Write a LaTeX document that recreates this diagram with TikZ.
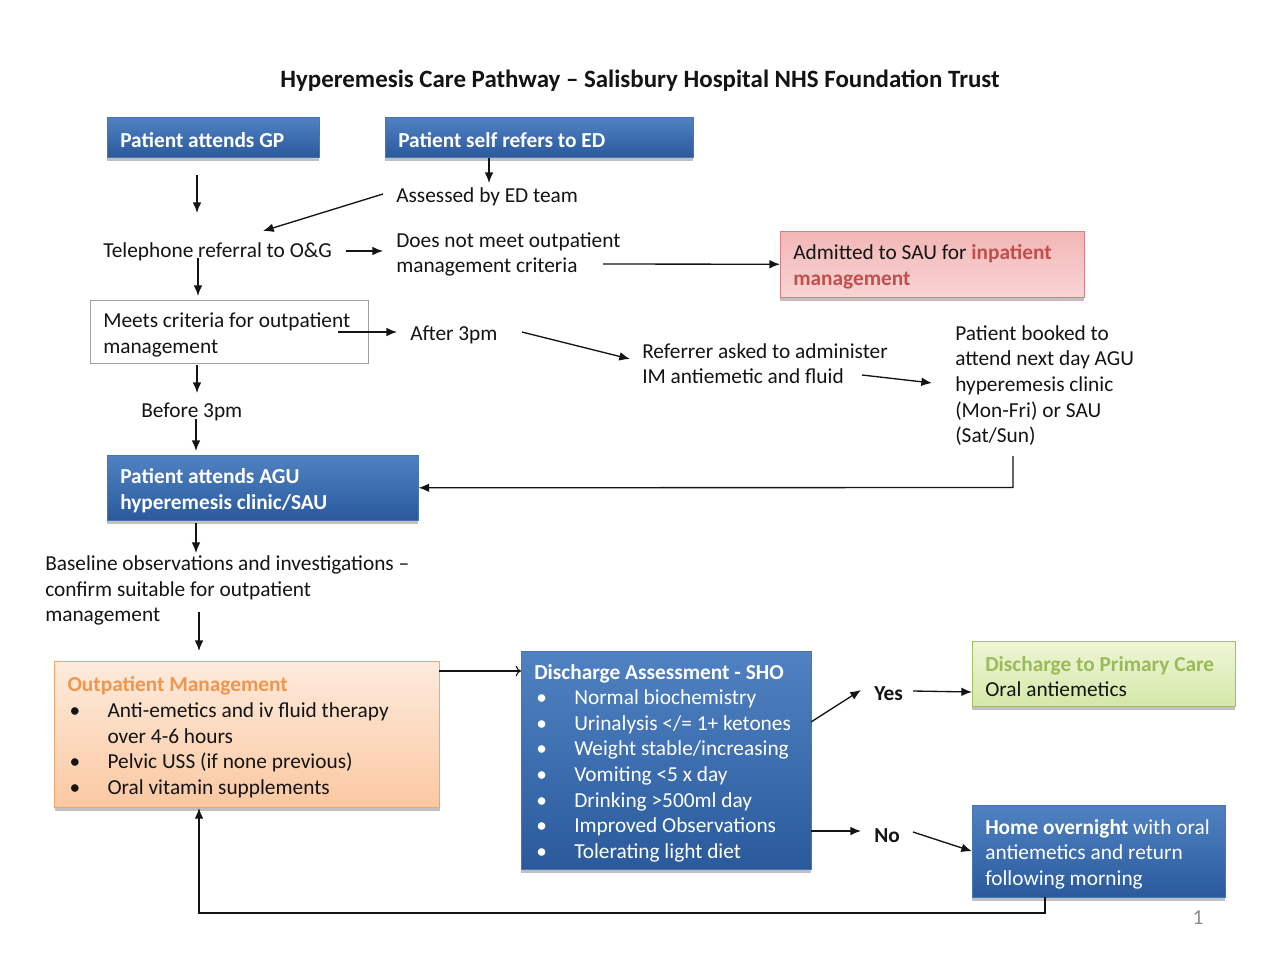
\documentclass[tikz,border=0pt]{standalone}
\usepackage{fontspec}
\setmainfont{Carlito}
\usetikzlibrary{arrows.meta,shadows}
\definecolor{bTop}{RGB}{80,130,194}
\definecolor{bBot}{RGB}{42,90,156}
\definecolor{bEdge}{RGB}{72,118,180}
\definecolor{pTop}{RGB}{242,182,182}
\definecolor{pBot}{RGB}{249,212,212}
\definecolor{pEdge}{RGB}{212,130,130}
\definecolor{pText}{RGB}{192,80,77}
\definecolor{oTop}{RGB}{253,235,220}
\definecolor{oBot}{RGB}{251,200,162}
\definecolor{oEdge}{RGB}{244,165,110}
\definecolor{oText}{RGB}{240,150,80}
\definecolor{gTop}{RGB}{238,246,216}
\definecolor{gBot}{RGB}{212,232,168}
\definecolor{gEdge}{RGB}{160,190,100}
\definecolor{gText}{RGB}{155,187,89}
\definecolor{ink}{RGB}{20,20,20}
\definecolor{greyedge}{RGB}{160,160,160}
\newcommand{\fsz}{\fontsize{16}{19.2}\selectfont}
\newcommand{\tsz}{\fontsize{18.7}{22}\selectfont}
\newcommand{\bul}{\makebox[30pt][l]{\hspace{1.5pt}\textbullet}}
\newcommand{\ind}{\hspace*{30pt}}
\newcommand{\dn}{\rule{0pt}{15.5pt}}
\begin{document}
\begin{tikzpicture}[x=0.75pt,y=-0.75pt, font=\fsz, text=ink,
  every node/.style={inner sep=0pt},
  arr/.style={draw=ink, line width=1pt, -{Latex[length=8pt,width=6.5pt]}},
  oarr/.style={draw=ink, line width=0.8pt, -{To[length=4pt,width=8pt]}},
  lbl/.style={anchor=west, align=flush left, yshift=-1.2pt},
  shad/.style={drop shadow={shadow xshift=0pt, shadow yshift=-2.5pt, opacity=0.35, fill=black!70}},
  box/.style={anchor=north west, align=flush left, inner xsep=9.75pt, inner ysep=0pt},
  bluebox/.style={box, shad, draw=bEdge, top color=bTop, bottom color=bBot, text=white},
  pinkbox/.style={box, shad, draw=pEdge, top color=pTop, bottom color=pBot},
  orangebox/.style={box, shad, draw=oEdge, line width=0.8pt, top color=oTop, bottom color=oBot},
  greenbox/.style={box, shad, draw=gEdge, top color=gTop, bottom color=gBot},
  whitebox/.style={box, draw=greyedge, fill=white},
]
\useasboundingbox[fill=white] (0,0) rectangle (1280,960);

% title
\node[font=\tsz\bfseries] (title) at (640,81) {Hyperemesis Care Pathway – Salisbury Hospital NHS Foundation Trust};

% boxes
\node[bluebox, minimum width=159pt, minimum height=30pt, text width=139.5pt] (gp) at (107,117) {\dn\bfseries Patient attends GP};
\node[bluebox, minimum width=231pt, minimum height=30pt, text width=211.5pt] (ed) at (385,117) {\dn\bfseries Patient self refers to ED};
\node[pinkbox, minimum width=228pt, minimum height=49.5pt, text width=208.5pt] (sau) at (780,231) {\dn Admitted to SAU for {\bfseries\color{pText}inpatient}\\{\bfseries\color{pText}management}};
\node[whitebox, minimum width=208.5pt, minimum height=47.25pt, text width=189pt] (meets) at (90,300) {\dn Meets criteria for outpatient\\management};
\node[bluebox, minimum width=233.25pt, minimum height=48.75pt, text width=213.75pt] (agu) at (107,455) {\dn\bfseries Patient attends AGU\\\bfseries hyperemesis clinic/SAU};
\node[orangebox, minimum width=288.75pt, minimum height=109.5pt, text width=269.25pt] (op) at (54,661) {\dn{\bfseries\color{oText}Outpatient Management}\\\bul Anti-emetics and iv fluid therapy\\\ind over 4-6 hours\\\bul Pelvic USS (if none previous)\\\bul Oral vitamin supplements};
\node[bluebox, minimum width=217.5pt, minimum height=163.5pt, text width=198pt] (dis) at (521,651) {\dn{\bfseries Discharge Assessment - SHO}\\\bul Normal biochemistry\\\bul Urinalysis </= 1+ ketones\\\bul Weight stable/increasing\\\bul Vomiting <5 x day\\\bul Drinking >500ml day\\\bul Improved Observations\\\bul Tolerating light diet};
\node[greenbox, minimum width=197.25pt, minimum height=48.75pt, text width=177.75pt] (pc) at (972,641) {\dn{\bfseries\color{gText}Discharge to Primary Care}\\Oral antiemetics};
\node[bluebox, minimum width=189.75pt, minimum height=69pt, text width=170.25pt] (home) at (972,805) {\dn{\bfseries Home overnight} with oral\\antiemetics and return\\following morning};

% free text
\node[lbl] (assessed) at (396,195) {Assessed by ED team};
\node[lbl] (tel) at (103,250) {Telephone referral to O\&G};
\node[lbl] (notmeet) at (396,253) {Does not meet outpatient\\management criteria};
\node[lbl] (after) at (410,333) {After 3pm};
\node[lbl] (referrer) at (642,362) {Referrer asked to administer\\IM antiemetic and fluid};
\node[lbl] (booked) at (955,384) {Patient booked to\\attend next day AGU\\hyperemesis clinic\\(Mon-Fri) or SAU\\(Sat/Sun)};
\node[lbl] (before) at (141,410) {Before 3pm};
\node[lbl] (baseline) at (45,589) {Baseline observations and investigations –\\confirm suitable for outpatient\\management};
\node[lbl, font=\fsz\bfseries] (yes) at (874,692) {Yes};
\node[lbl, font=\fsz\bfseries] (no) at (874,834) {No};
\node[text=black!45] (page) at (1198,918) {1};

% connector end points
\coordinate (c1a) at (197,175); \coordinate (c1b) at (197,213);
\coordinate (c2a) at (489,158); \coordinate (c2b) at (489,183);
\coordinate (c3a) at (383,194); \coordinate (c3b) at (263,231);
\coordinate (c4a) at (346,251); \coordinate (c4b) at (383,251);
\coordinate (c5a) at (603,264);
\coordinate (c6a) at (198,258); \coordinate (c6b) at (198,296);
\coordinate (c7a) at (338,332); \coordinate (c7b) at (397,332);
\coordinate (c8a) at (522,332); \coordinate (c8b) at (630,359);
\coordinate (c9a) at (862,375); \coordinate (c9b) at (932,383);
\coordinate (c10a) at (1013,456); \coordinate (c10b) at (1013,487.5);
\coordinate (c11a) at (197,365); \coordinate (c11b) at (197,393);
\coordinate (c12a) at (196,419); \coordinate (c12b) at (196,451);
\coordinate (c13a) at (196,523); \coordinate (c13b) at (196,553);
\coordinate (c14a) at (199,612); \coordinate (c14b) at (199,651);
\coordinate (c15a) at (439,671); \coordinate (c15b) at (521,671);
\coordinate (c16a) at (811,722); \coordinate (c16b) at (861,690);
\coordinate (c17a) at (913,691); \coordinate (c17b) at (972,692);
\coordinate (c18a) at (811,831); \coordinate (c18b) at (861,831);
\coordinate (c19a) at (913,832);
\coordinate (c20a) at (1045,897); \coordinate (c20b) at (1045,913);
\coordinate (c20c) at (199,913); \coordinate (c20d) at (199,808);

% connectors
\draw[arr] (c1a) -- (c1b);
\draw[arr] (c2a) -- (c2b);
\draw[arr] (c3a) -- (c3b);
\draw[arr] (c4a) -- (c4b);
\draw[arr] (c5a) -- (sau.west);
\draw[arr] (c6a) -- (c6b);
\draw[arr] (c7a) -- (c7b);
\draw[arr] (c8a) -- (c8b);
\draw[arr] (c9a) -- (c9b);
\draw[arr] (c10a) -- (c10b) -- (agu.east);
\draw[arr] (c11a) -- (c11b);
\draw[arr] (c12a) -- (c12b);
\draw[arr] (c13a) -- (c13b);
\draw[arr] (c14a) -- (c14b);
\draw[oarr] (c15a) -- (c15b);
\draw[arr] (c16a) -- (c16b);
\draw[arr] (c17a) -- (c17b);
\draw[arr] (c18a) -- (c18b);
\draw[arr] (c19a) -- (home.west);
\draw[arr] (c20a) -- (c20b) -- (c20c) -- (c20d);
\end{tikzpicture}
\end{document}
